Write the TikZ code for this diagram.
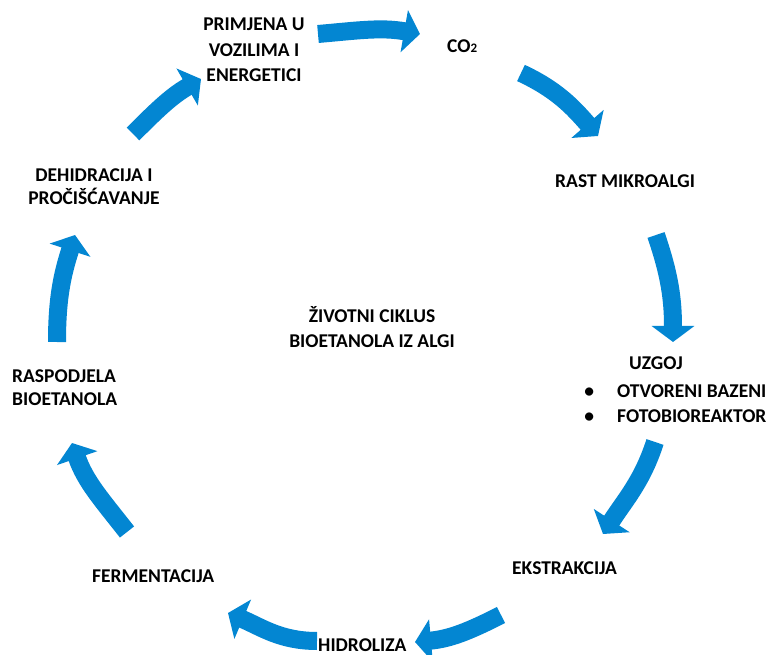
\documentclass[tikz,border=0pt]{standalone}
\usepackage{fontspec}
\setmainfont{Carlito}
\usetikzlibrary{arrows.meta}
\definecolor{arrowblue}{RGB}{3,134,210}
\tikzset{
  lbl/.style={inner sep=0pt, font=\bfseries\fontsize{19.5}{25.5}\selectfont, text=black},
  tight/.style={font=\bfseries\fontsize{19.5}{23}\selectfont},
  cyc/.style={draw=arrowblue, line width=18pt, line cap=butt,
    -{Triangle[length=16pt 0 1, width=42pt 0 1, fill=arrowblue]}}
}
\begin{document}
\begin{tikzpicture}[x=1pt,y=1pt]
\useasboundingbox (0,0) rectangle (769,-655);
% text nodes (multi-line nodes: base = baseline of last line)
\node[lbl, anchor=base, align=center] (prim) at (254,-82) {PRIMJENA U\\VOZILIMA I\\ENERGETICI};
\node[lbl, anchor=base west] (co2) at (447,-53) {CO{\fontsize{13}{13}\selectfont 2}};
\node[lbl, anchor=base west] (rast) at (555,-188) {RAST MIKROALGI};
\node[lbl, anchor=base] (uzgoj) at (656,-370) {UZGOJ};
\node[lbl, anchor=base west] (bazeni) at (617,-397) {\llap{•\hspace{23pt}}OTVORENI BAZENI};
\node[lbl, anchor=base west] (foto) at (617,-422) {\llap{•\hspace{23pt}}FOTOBIOREAKTOR};
\node[lbl, anchor=base west] (ekstr) at (512,-574) {EKSTRAKCIJA};
\node[lbl, anchor=base west] (hidro) at (318,-651) {HIDROLIZA};
\node[lbl, anchor=base west] (ferm) at (92,-582) {FERMENTACIJA};
\node[lbl, tight, anchor=base west, align=left] (rasp) at (12,-405) {RASPODJELA\\BIOETANOLA};
\node[lbl, tight, anchor=base, align=center] (dehid) at (94,-205) {DEHIDRACIJA I\\PROČIŠĆAVANJE};
\node[lbl, anchor=base, align=center] (centre) at (372,-348) {ŽIVOTNI CIKLUS\\BIOETANOLA IZ ALGI};
% arrow end points
\coordinate (a1s) at (318,-34);  \coordinate (a1e) at (420,-34);
\coordinate (a2s) at (521,-73);  \coordinate (a2e) at (598,-136);
\coordinate (a3s) at (656,-235); \coordinate (a3e) at (673,-342);
\coordinate (a4s) at (655,-442); \coordinate (a4e) at (603,-534);
\coordinate (a5s) at (501,-615); \coordinate (a5e) at (415,-642);
\coordinate (a6s) at (317,-641); \coordinate (a6e) at (228,-613);
\coordinate (a7s) at (127,-532); \coordinate (a7e) at (72,-443);
\coordinate (a8s) at (57,-342);  \coordinate (a8e) at (75,-235);
\coordinate (a9s) at (133,-134); \coordinate (a9e) at (201,-79);
% arrows
\draw[cyc] (a1s) to[out=5, in=170] (a1e);
\draw[cyc] (a2s) to[out=-25, in=131] (a2e);
\draw[cyc] (a3s) to[out=-71, in=90] (a3e);
\draw[cyc] (a4s) to[out=-108, in=57] (a4e);
\draw[cyc] (a5s) to[out=207, in=5] (a5e);
\draw[cyc] (a6s) to[out=180, in=-23] (a6e);
\draw[cyc] (a7s) to[out=128, in=-71] (a7e);
\draw[cyc] (a8s) to[out=90, in=252] (a8e);
\draw[cyc] (a9s) to[out=45, in=210] (a9e);
\end{tikzpicture}
\end{document}
